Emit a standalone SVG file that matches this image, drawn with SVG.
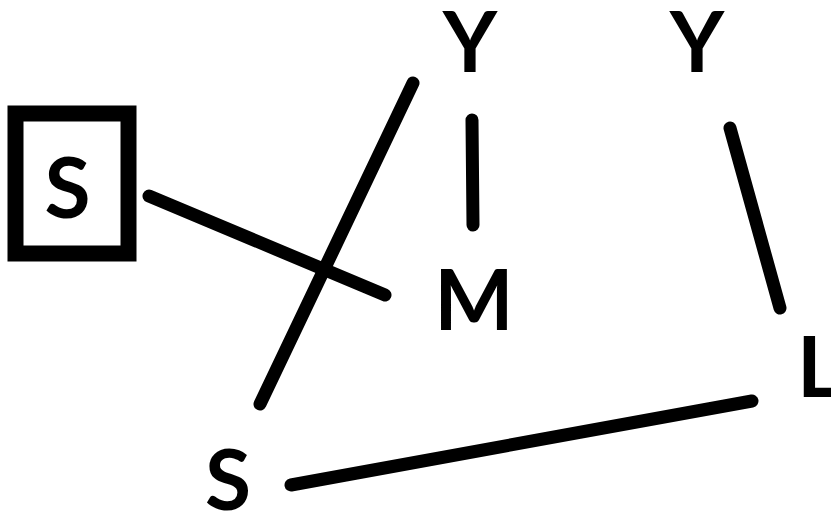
<svg xmlns="http://www.w3.org/2000/svg" width="831" height="513" viewBox="0 0 831 513">
<style>
.lbl{font-family:Lato,"Open Sans","Liberation Sans",sans-serif;font-weight:700;font-size:84px;fill:#000;text-anchor:middle}
.edge{stroke:#000;stroke-width:13;stroke-linecap:round;fill:none}
</style>
<rect width="831" height="513" fill="#fff"/>
<g id="connectors">
<line class="edge" x1="149" y1="196" x2="385" y2="295"/>
<line class="edge" x1="413" y1="83" x2="260" y2="404"/>
<line class="edge" x1="472" y1="120" x2="473" y2="225"/>
<line class="edge" x1="730" y1="128" x2="780" y2="308"/>
<line class="edge" x1="291" y1="485" x2="752" y2="401"/>
</g>
<g id="node-s-box">
<rect x="15.5" y="113.5" width="113" height="140" fill="none" stroke="#000" stroke-width="16"/>
<text class="lbl" x="67.5" y="218">S</text>
</g>
<g id="node-y1"><text class="lbl" x="470" y="72">Y</text></g>
<g id="node-y2"><text class="lbl" x="697" y="72">Y</text></g>
<g id="node-m"><text class="lbl" x="474" y="330">M</text></g>
<g id="node-l"><text class="lbl" x="797" y="397" style="text-anchor:start">L</text></g>
<g id="node-s2"><text class="lbl" x="228" y="510">S</text></g>
</svg>
